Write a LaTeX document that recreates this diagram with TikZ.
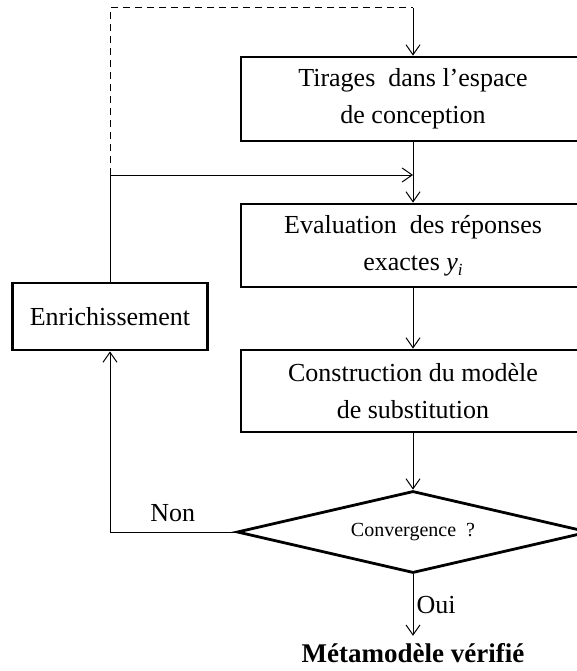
\documentclass[tikz,border=0pt]{standalone}
\usepackage{fontspec}
\setmainfont{Liberation Serif}
\usetikzlibrary{arrows.meta,shapes.geometric}
\begin{document}
\begin{tikzpicture}[x=1pt,y=1pt,
  every node/.style={inner sep=0pt},
  stepbox/.style={draw,line width=2.8pt,rectangle,minimum width=344pt,align=center,
    font=\fontsize{26}{37}\selectfont},
  decbox/.style={draw,line width=2.8pt,diamond,shape aspect=4.3,minimum width=352pt,minimum height=82pt,
    font=\fontsize{20}{24}\selectfont},
  conn/.style={line width=1pt},
  arr/.style={conn,-{Straight Barb[length=10pt,width=14pt]}},
  lbl/.style={font=\fontsize{26}{30}\selectfont}]
\useasboundingbox (0,0) rectangle (577,-671);
\node[stepbox,minimum height=84pt] (t1) at (413,-99) {Tirages\ \ dans l’espace\\de conception};
\node[stepbox,minimum height=83pt] (t2) at (413,-245.5) {Evaluation\ \ des réponses\\exactes \textit{y}\raisebox{-5pt}{\fontsize{17}{17}\selectfont\textit{i}}};
\node[stepbox,minimum height=82pt] (t3) at (413,-391) {Construction du modèle\\de substitution};
\node[stepbox,minimum width=195pt,minimum height=67pt] (enr) at (110,-316.5) {Enrichissement};
\node[decbox] (conv) at (413,-532) {Convergence\ \ ?};
\node[font=\fontsize{27}{30}\selectfont\bfseries,anchor=base,inner ysep=7pt] (out) at (413,-662) {Métamodèle vérifié};
\coordinate (ctl) at (110,-8);
\coordinate (ctr) at (413,-8);
\coordinate (cml) at (110,-175);
\coordinate (cmr) at (413,-175);
\coordinate (cnl) at (110,-532);
\draw[conn,dash pattern=on 7pt off 5pt] (cml) -- (ctl) -- (ctr);
\draw[arr] (ctr) -- (t1.north);
\draw[arr] (enr.north) -- (cml) -- (cmr);
\draw[arr] (t1.south) -- (t2.north);
\draw[arr] (t2.south) -- (t3.north);
\draw[arr] (t3.south) -- (conv.north);
\draw[arr] (conv.west) -- node[lbl,above=10pt] (non) {Non} (cnl) -- (enr.south);
\draw[arr] (conv.south) -- node[lbl,right=3pt] (oui) {Oui} (out.north);
\end{tikzpicture}
\end{document}
